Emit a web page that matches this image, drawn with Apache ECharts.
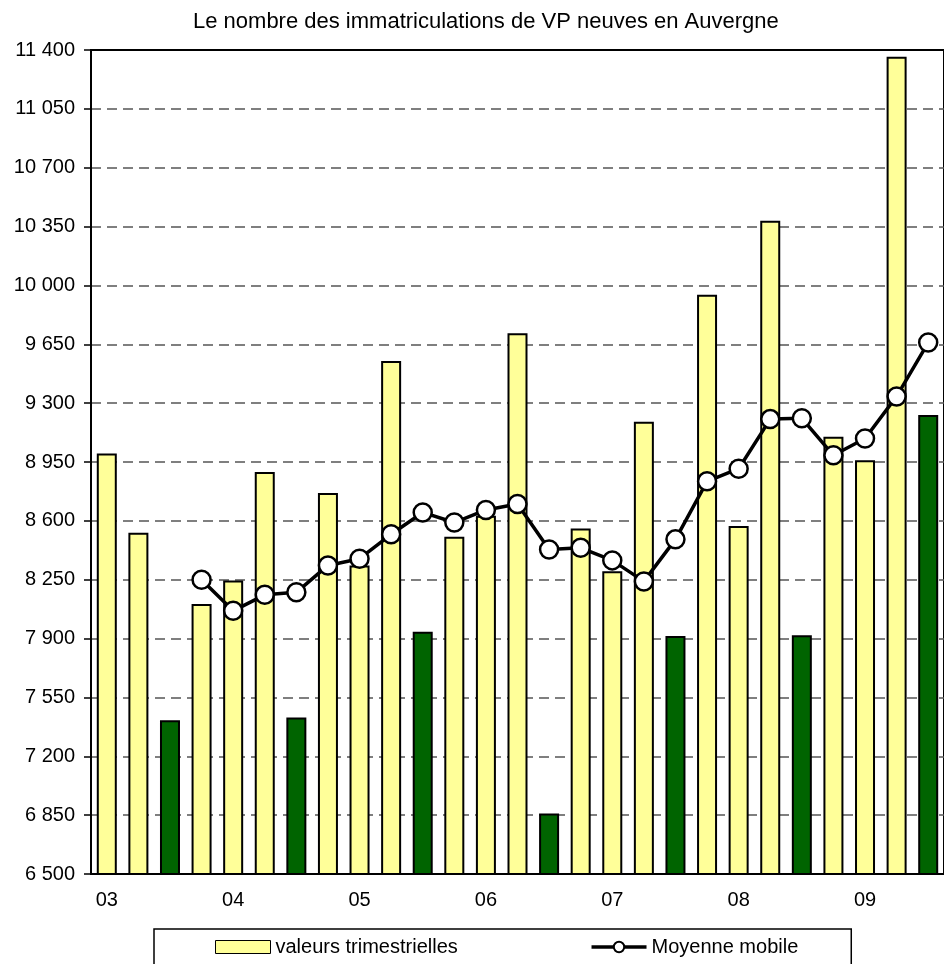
<!DOCTYPE html>
<html>
<head>
<meta charset="utf-8">
<script src="https://cdn.jsdelivr.net/npm/echarts@6/dist/echarts.min.js"></script>
<style>
  html, body { margin: 0; padding: 0; background: #fff; }
  #chart { width: 944px; height: 964px; }
</style>
</head>
<body>
<div id="chart"></div>
<script>
// trimestres 2003 -> 2009 (27 valeurs)
var categories = [
  '03-1', '03-2', '03-3', '03-4',
  '04-1', '04-2', '04-3', '04-4',
  '05-1', '05-2', '05-3', '05-4',
  '06-1', '06-2', '06-3', '06-4',
  '07-1', '07-2', '07-3', '07-4',
  '08-1', '08-2', '08-3', '08-4',
  '09-1', '09-2', '09-3'
];
var valeurs = [
  9000, 8530, 7415, 8105,
  8245, 8890, 7430, 8765,
  8335, 9550, 7940, 8505,
  8630, 9715, 6860, 8555,
  8300, 9190, 7915, 9945,
  8570, 10385, 7920, 9100,
  8960, 11360, 9230
];
var moyenne = [
  null, null, null, 8250,
  8065, 8160, 8175, 8335,
  8375, 8520, 8650, 8590,
  8665, 8700, 8430, 8440,
  8365, 8240, 8490, 8835,
  8910, 9205, 9210, 8990,
  9090, 9340, 9660
];

var font = 'Liberation Sans, Arial, sans-serif';
var jaune = '#FFFF99';
var vert = '#006400';

var chart = echarts.init(document.getElementById('chart'));

var option = {
  animation: false,
  backgroundColor: '#fff',
  textStyle: { fontFamily: font },
  title: {
    text: 'Le nombre des immatriculations de VP neuves en Auvergne',
    left: 188,
    top: 6,
    textStyle: { fontFamily: font, fontSize: 22, fontWeight: 'normal', color: '#000' }
  },
  legend: {
    left: 154,
    top: 929,
    padding: [8, 53, 8, 61],
    borderColor: '#000',
    borderWidth: 1.5,
    itemWidth: 55,
    itemHeight: 13,
    itemGap: 132,
    textStyle: { fontFamily: font, fontSize: 20, color: '#000' },
    data: [
      { name: 'valeurs trimestrielles', icon: 'rect', itemStyle: { color: jaune, borderColor: '#000', borderWidth: 1 } },
      { name: 'Moyenne mobile', lineStyle: { width: 3.5 }, itemStyle: { borderWidth: 2 } }
    ]
  },
  grid: {
    left: 91,
    top: 50,
    right: -5,
    bottom: 90,
    show: true,
    borderColor: '#000',
    borderWidth: 2
  },
  xAxis: {
    type: 'category',
    data: categories,
    axisLine: { lineStyle: { color: '#000', width: 2 } },
    axisTick: { interval: 3, length: 6, lineStyle: { color: '#000', width: 1.5 } },
    axisLabel: {
      interval: 3,
      margin: 16,
      fontSize: 20,
      color: '#000',
      fontFamily: font,
      formatter: function (v) { return v.slice(0, 2); }
    },
    splitLine: { show: false }
  },
  yAxis: {
    type: 'value',
    min: 6500,
    max: 11400,
    interval: 350,
    axisLine: { show: true, lineStyle: { color: '#000', width: 2 } },
    axisTick: { show: true, length: 7, lineStyle: { color: '#000', width: 1.5 } },
    axisLabel: {
      margin: 16,
      fontSize: 20,
      color: '#000',
      fontFamily: font,
      formatter: function (v) { return String(v).replace(/\B(?=(\d{3})+(?!\d))/g, ' '); }
    },
    splitLine: {
      show: true,
      showMinLine: false,
      showMaxLine: false,
      lineStyle: { color: '#555', width: 1.5, type: [10, 6] }
    }
  },
  series: [
    {
      name: 'valeurs trimestrielles',
      type: 'bar',
      barWidth: 20,
      data: valeurs.map(function (v, i) {
        return { value: v, itemStyle: { color: i % 4 === 2 ? vert : jaune } };
      }),
      itemStyle: { borderColor: '#000', borderWidth: 2 },
      z: 2
    },
    {
      name: 'Moyenne mobile',
      type: 'line',
      data: moyenne,
      symbol: 'circle',
      symbolSize: 18,
      lineStyle: { color: '#000', width: 3.5 },
      itemStyle: { color: '#fff', borderColor: '#000', borderWidth: 2.5 },
      z: 3
    }
  ]
};

chart.setOption(option);
</script>
</body>
</html>
